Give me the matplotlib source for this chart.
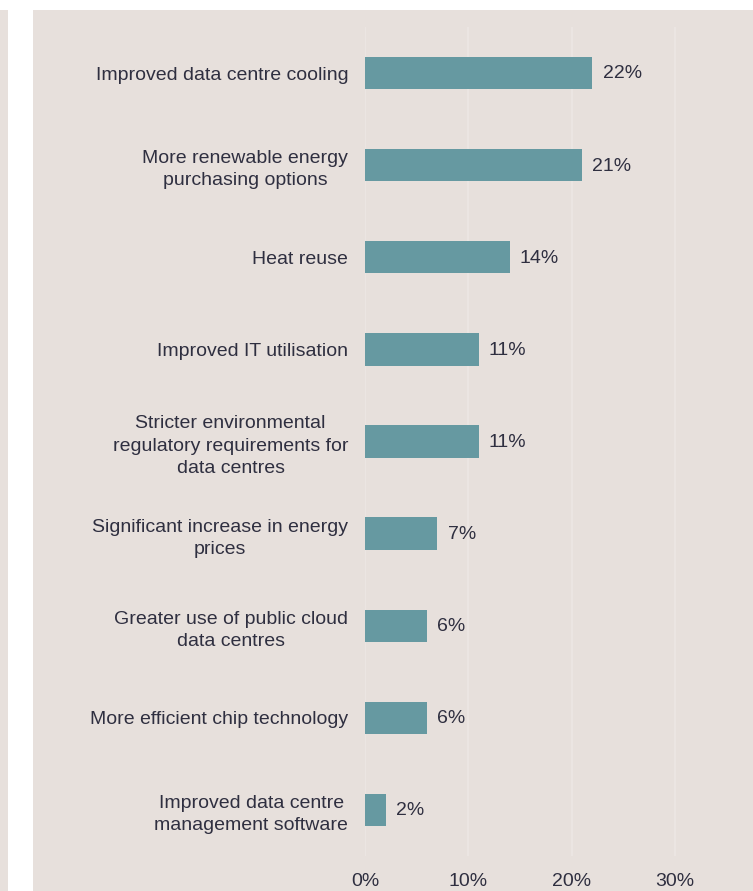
import matplotlib.pyplot as plt
from matplotlib.patches import Rectangle

# Datos
labels = [
    "Improved data centre cooling",
    "More renewable energy\npurchasing options",
    "Heat reuse",
    "Improved IT utilisation",
    "Stricter environmental\nregulatory requirements for\ndata centres",
    "Significant increase in energy\nprices",
    "Greater use of public cloud\ndata centres",
    "More efficient chip technology",
    "Improved data centre\nmanagement software",
]
values = [22, 21, 14, 11, 11, 7, 6, 6, 2]
ticks = [0, 10, 20, 30]
tick_labels = ["0%", "10%", "20%", "30%"]

BG = "#e7e0dc"
BAR = "#6699a1"
TXT = "#2f2f40"
GRID = "#ece7e4"

plt.rcParams["font.family"] = ["Liberation Sans", "DejaVu Sans"]

W, H = 753, 891
fig = plt.figure(figsize=(W / 100, H / 100), dpi=100)
fig.patch.set_facecolor("white")

# paneles de fondo (debajo de los ejes)
fig.patches.append(Rectangle((0, 0), 8 / W, 1 - 10 / H, transform=fig.transFigure,
                             facecolor=BG, edgecolor="none", zorder=-5))
fig.patches.append(Rectangle((33 / W, 0), 1 - 33 / W, 1 - 10 / H, transform=fig.transFigure,
                             facecolor=BG, edgecolor="none", zorder=-5))

left = 365 / W
bottom = 1 - 856 / H
top = 1 - 27 / H
ax = fig.add_axes([left, bottom, 1 - left, top - bottom])
ax.set_facecolor("none")

y = list(range(len(values)))
ax.barh(y, values, height=0.35, color=BAR, zorder=3)
for yi, v in zip(y, values):
    ax.text(v + 1.0, yi + 0.01, f"{v}%", va="center", ha="left", fontsize=14, color=TXT)

ax.set_xlim(0, (W - 365) / 10.33)
ax.set_ylim(len(values) - 0.5, -0.5)
ax.set_yticks(y)
ax.set_yticklabels(labels, fontsize=14, color=TXT, ha="right", multialignment="center")
for t in ax.get_yticklabels():
    t.set_linespacing(1.4)
ax.set_xticks(ticks)
ax.set_xticklabels(tick_labels, fontsize=14, color=TXT)
ax.tick_params(axis="y", length=0, pad=12)
ax.tick_params(axis="x", length=0, pad=12.5)
ax.grid(True, axis="x", color=GRID, linewidth=1.2, zorder=0)
for s in ax.spines.values():
    s.set_visible(False)

fig.savefig("out.png", dpi=100, facecolor=fig.get_facecolor())
